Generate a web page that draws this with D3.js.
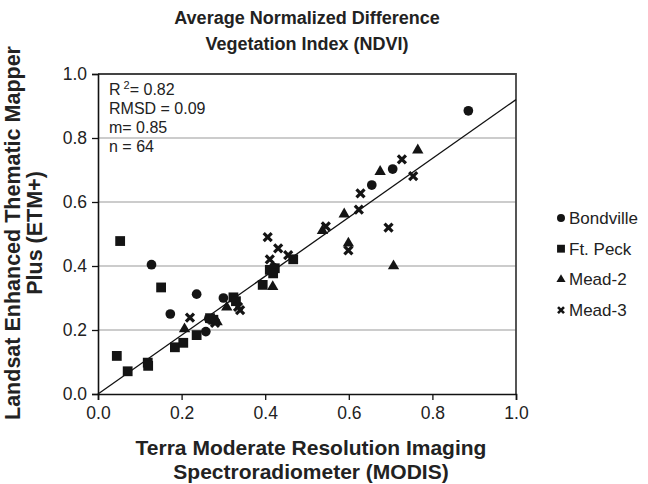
<!DOCTYPE html>
<html>
<head>
<meta charset="utf-8">
<script src="https://cdn.jsdelivr.net/npm/d3@7"></script>
<style>
  body { margin: 0; background: #fff; }
  svg { display: block; font-family: "Liberation Sans", Arial, sans-serif; }
</style>
</head>
<body>
<svg id="chart" width="648" height="484"></svg>
<script>
// data (MODIS x, ETM+ y)
const bondville = [
  [0.128, 0.404], [0.173, 0.250], [0.236, 0.312], [0.258, 0.195],
  [0.265, 0.235], [0.300, 0.300], [0.420, 0.395], [0.655, 0.653],
  [0.705, 0.703], [0.886, 0.885]
];
const ftPeck = [
  [0.053, 0.478], [0.151, 0.333], [0.045, 0.119], [0.071, 0.071],
  [0.119, 0.098], [0.120, 0.088], [0.184, 0.146], [0.204, 0.160],
  [0.236, 0.184], [0.268, 0.237], [0.276, 0.232], [0.324, 0.302],
  [0.330, 0.290], [0.394, 0.341], [0.411, 0.388], [0.423, 0.393],
  [0.419, 0.377], [0.467, 0.421]
];
const mead2 = [
  [0.207, 0.203], [0.285, 0.225], [0.308, 0.271], [0.418, 0.335],
  [0.537, 0.510], [0.589, 0.562], [0.599, 0.471], [0.675, 0.695],
  [0.707, 0.400], [0.765, 0.762]
];
const mead3 = [
  [0.220, 0.239], [0.280, 0.222], [0.340, 0.262], [0.335, 0.272],
  [0.406, 0.490], [0.431, 0.455], [0.411, 0.421], [0.455, 0.434],
  [0.545, 0.524], [0.624, 0.576], [0.628, 0.627], [0.599, 0.449],
  [0.695, 0.520], [0.727, 0.733], [0.754, 0.681]
];
const seriesNames = ["Bondville", "Ft. Peck", "Mead-2", "Mead-3"];
const fitLine = [[0, 0], [1, 0.92]];
const ticks = [0, 0.2, 0.4, 0.6, 0.8, 1.0];
const statLines = ["RMSD = 0.09", "m= 0.85", "n = 64"];

const svg = d3.select("#chart");
const plot = { left: 98, right: 516, top: 74, bottom: 394 };

const x = d3.scaleLinear().domain([0, 1]).range([plot.left, plot.right]);
const y = d3.scaleLinear().domain([0, 1]).range([plot.bottom, plot.top]);

// gridlines
svg.append("g").selectAll("line")
  .data(ticks.slice(1, -1))
  .join("line")
  .attr("x1", plot.left).attr("x2", plot.right)
  .attr("y1", d => y(d)).attr("y2", d => y(d))
  .attr("stroke", "#9a9a9a").attr("stroke-width", 1.2);

// frame top/right
svg.append("path")
  .attr("d", `M${plot.left},${plot.top}H${plot.right}V${plot.bottom}`)
  .attr("fill", "none").attr("stroke", "#444").attr("stroke-width", 1.8);

// axes
const xAxis = svg.append("g")
  .attr("transform", `translate(0,${plot.bottom})`)
  .call(d3.axisBottom(x).tickValues(ticks).tickFormat(d3.format(".1f")).tickSize(6).tickPadding(7));
const yAxis = svg.append("g")
  .attr("transform", `translate(${plot.left},0)`)
  .call(d3.axisLeft(y).tickValues(ticks).tickFormat(d3.format(".1f")).tickSize(6).tickPadding(5));

[xAxis, yAxis].forEach(a => {
  a.select(".domain").attr("stroke", "#111").attr("stroke-width", 1.6);
  a.selectAll(".tick line").attr("stroke", "#111").attr("stroke-width", 1.3);
  a.selectAll("text").attr("font-size", 17.5).attr("fill", "#222")
    .attr("font-family", "'Liberation Sans', Arial, sans-serif");
});

// regression line
svg.append("line")
  .attr("x1", x(fitLine[0][0])).attr("y1", y(fitLine[0][1]))
  .attr("x2", x(fitLine[1][0])).attr("y2", y(fitLine[1][1]))
  .attr("stroke", "#111").attr("stroke-width", 1.3);

// thick X marker
const symbolX = {
  draw(ctx, size) {
    const u = Math.sqrt(size) / 2;
    ctx.moveTo(-u, -u); ctx.lineTo(u, u);
    ctx.moveTo(-u, u); ctx.lineTo(u, -u);
  }
};

const styles = [
  { data: bondville, type: d3.symbolCircle, size: 74, lsize: 50, stroke: false },
  { data: ftPeck, type: d3.symbolSquare, size: 96, lsize: 62, stroke: false },
  { data: mead2, type: d3.symbolTriangle, size: 56, lsize: 36, stroke: false },
  { data: mead3, type: symbolX, size: 64, lsize: 36, stroke: true }
];

styles.forEach(s => {
  svg.append("g").selectAll("path")
    .data(s.data)
    .join("path")
    .attr("transform", d => `translate(${x(d[0])},${y(d[1])})`)
    .attr("d", d3.symbol(s.type, s.size))
    .attr("fill", s.stroke ? "none" : "#141414")
    .attr("stroke", s.stroke ? "#141414" : "none")
    .attr("stroke-width", s.stroke ? 3.2 : 0);
});

// stats box
const stats = svg.append("g").attr("font-size", 16).attr("fill", "#222");
const r2 = stats.append("text").attr("x", 109).attr("y", 94.5);
r2.append("tspan").text("R");
r2.append("tspan").text("2").attr("font-size", 11).attr("dy", -6).attr("dx", 3);
r2.append("tspan").text("= 0.82").attr("dy", 6);
stats.selectAll("text.s")
  .data(statLines)
  .join("text")
  .attr("class", "s")
  .attr("x", 109)
  .attr("y", (d, i) => 114 + i * 19.2)
  .text(d => d);

// legend
const legend = svg.append("g");
styles.forEach((s, i) => {
  const ly = 218 + i * 30.7;
  legend.append("path")
    .attr("transform", `translate(561,${ly})`)
    .attr("d", d3.symbol(s.type, s.lsize))
    .attr("fill", s.stroke ? "none" : "#141414")
    .attr("stroke", s.stroke ? "#141414" : "none")
    .attr("stroke-width", s.stroke ? 2.6 : 0);
  legend.append("text")
    .attr("x", 569).attr("y", ly + 6)
    .attr("font-size", 17).attr("fill", "#222")
    .text(seriesNames[i]);
});

// titles
function label(g, lines, x0, y0, lh, fs) {
  const t = g.append("text")
    .attr("font-size", fs).attr("font-weight", "bold")
    .attr("fill", "#222").attr("text-anchor", "middle");
  lines.forEach((l, i) => t.append("tspan").attr("x", x0).attr("y", y0 + i * lh).text(l));
  return t;
}
label(svg, ["Average Normalized Difference", "Vegetation Index (NDVI)"], 307, 24, 26, 18);
label(svg, ["Terra Moderate Resolution Imaging", "Spectroradiometer (MODIS)"], 311, 455, 23.5, 21);
const yg = svg.append("g").attr("transform", "translate(0,233) rotate(-90)");
label(yg, ["Landsat Enhanced Thematic Mapper", "Plus (ETM+)"], 0, 20, 22, 21.5);
</script>
</body>
</html>
